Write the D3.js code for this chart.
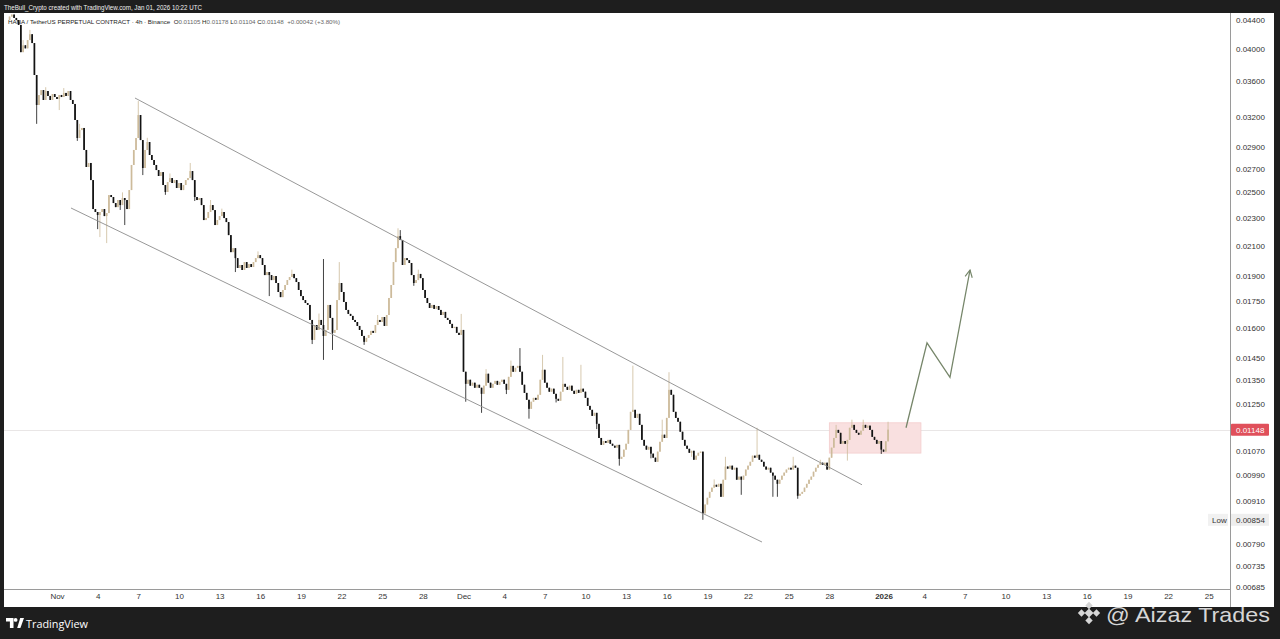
<!DOCTYPE html>
<html><head><meta charset="utf-8">
<script src="https://cdn.jsdelivr.net/npm/d3@7"></script>
<style>
html,body{margin:0;padding:0;background:#1e1e1e;overflow:hidden}
svg{display:block}
</style>
</head><body>
<svg id="c" width="1280" height="639"></svg>
<script>
// ---------------- DATA ----------------
const title = "TheBull_Crypto created with TradingView.com, Jan 01, 2026 10:22 UTC";
const symbolText = "HANA / TetherUS PERPETUAL CONTRACT · 4h · Binance";
const ohlcLabels = ["O", "H", "L", "C"];
const ohlcValues = ["0.01105", "0.01178", "0.01104", "0.01148"];
const changeText = "+0.00042 (+3.80%)";

const priceUnit = 1e-5;            // values below are in 0.00001 USDT
const startTime = "2025-10-28T12:00:00Z"; // first 4h candle
const firstOpen = 4400;
const closes = [
  4450, 4480, 4430,                         // Oct 28 (12h-20h)
  4400, 4330, 3960, 4050, 4010, 4120,       // Oct 29
  4200, 4080, 3674, 3330, 3440, 3497,       // Oct 30
  3385, 3486, 3430, 3385, 3452, 3418,       // Oct 31
  3396, 3441, 3418, 3464, 3430, 3486,       // Nov 1
  3385, 3341, 3170, 2988, 3067, 3088,       // Nov 2
  2873, 2717, 2753, 2603, 2367, 2344,       // Nov 3
  2321, 2344, 2367, 2313, 2336, 2478,       // Nov 4
  2462, 2414, 2382, 2438, 2398, 2454,       // Nov 5
  2438, 2367, 2519, 2735, 2873, 2988,       // Nov 6
  3222, 2968, 2708, 2873, 2949, 2826,       // Nov 7
  2780, 2735, 2690, 2638, 2672, 2561,       // Nov 8
  2503, 2586, 2620, 2578, 2603, 2536,       // Nov 9
  2578, 2519, 2561, 2603, 2620, 2681,       // Nov 10
  2603, 2462, 2438, 2454, 2398, 2283,       // Nov 11
  2298, 2344, 2398, 2359, 2246, 2283,       // Nov 12
  2313, 2344, 2298, 2268, 2173, 2055,       // Nov 13
  2082, 2015, 1951, 1970, 1938, 1989,       // Nov 14
  1951, 1976, 1957, 1989, 2015, 2035,       // Nov 15
  2015, 1970, 1906, 1925, 1906, 1875,       // Nov 16
  1900, 1857, 1803, 1773, 1815, 1845,       // Nov 17
  1875, 1894, 1913, 1887, 1863, 1815,       // Nov 18
  1779, 1756, 1739, 1728, 1645, 1541,       // Nov 19
  1618, 1592, 1645, 1618, 1561, 1592,       // Nov 20
  1728, 1656, 1577, 1592, 1756, 1857,       // Nov 21
  1803, 1745, 1700, 1678, 1667, 1645,       // Nov 22
  1634, 1613, 1592, 1561, 1531, 1551,       // Nov 23
  1566, 1587, 1577, 1618, 1645, 1634,       // Nov 24
  1661, 1613, 1672, 1768, 1845, 1989,       // Nov 25
  2082, 2166, 2138, 1970, 2015, 2002,       // Nov 26
  1983, 1906, 1857, 1875, 1913, 1887,       // Nov 27
  1815, 1768, 1739, 1711, 1728, 1706,       // Nov 28
  1722, 1700, 1672, 1689, 1656, 1645,       // Nov 29
  1624, 1602, 1608, 1577, 1566, 1592,       // Nov 30
  1388, 1334, 1352, 1326, 1339, 1317,       // Dec 1
  1330, 1317, 1291, 1326, 1379, 1339,       // Dec 2
  1317, 1334, 1347, 1330, 1343, 1352,       // Dec 3
  1334, 1308, 1365, 1415, 1388, 1406,       // Dec 4
  1415, 1388, 1330, 1295, 1266, 1229,       // Dec 5
  1258, 1274, 1266, 1287, 1352, 1397,       // Dec 6
  1339, 1317, 1300, 1313, 1291, 1270,       // Dec 7
  1262, 1300, 1334, 1321, 1308, 1326,       // Dec 8
  1304, 1291, 1308, 1295, 1313, 1300,       // Dec 9
  1274, 1241, 1225, 1201, 1213, 1170,       // Dec 10
  1117, 1092, 1106, 1099, 1110, 1096,       // Dec 11
  1089, 1082, 1092, 1043, 1050, 1075,       // Dec 12
  1096, 1147, 1217, 1225, 1193, 1209,       // Dec 13
  1166, 1110, 1089, 1075, 1085, 1061,       // Dec 14
  1047, 1033, 1068, 1103, 1129, 1117,       // Dec 15
  1193, 1308, 1287, 1217, 1193, 1178,       // Dec 16
  1140, 1110, 1089, 1078, 1064, 1071,       // Dec 17
  1040, 1054, 1064, 1068, 872, 898,         // Dec 18
  918, 936, 949, 958, 952, 961,             // Dec 19
  921, 974, 1017, 1010, 1020, 1007,         // Dec 20
  1013, 974, 984, 974, 987, 1007,           // Dec 21
  1020, 1033, 1054, 1047, 1057, 1040,       // Dec 22
  1033, 1017, 1007, 1013, 997, 987,         // Dec 23
  974, 961, 974, 987, 997, 1007,            // Dec 24
  1013, 1007, 1020, 1013, 924, 930,         // Dec 25
  936, 949, 961, 974, 984, 1000,            // Dec 26
  1013, 1023, 1030, 1023, 1030, 1007,       // Dec 27
  1047, 1082, 1117, 1147, 1136, 1096,       // Dec 28
  1106, 1096, 1110, 1155, 1166, 1147,       // Dec 29
  1136, 1129, 1144, 1166, 1155, 1163,       // Dec 30
  1147, 1121, 1110, 1096, 1106, 1075,       // Dec 31
  1068, 1105, 1148                          // Jan 1 (00h-08h)
];
// notable wick extremes (time, price in units)
const highWicks = [
  ["2025-10-29T12:00", 4120], ["2025-10-30T00:00", 4260], ["2025-10-31T04:00", 3530],
  ["2025-11-01T12:00", 3520], ["2025-11-02T16:00", 3130], ["2025-11-05T20:00", 2500],
  ["2025-11-07T00:00", 3373], ["2025-11-07T16:00", 2990], ["2025-11-09T08:00", 2660],
  ["2025-11-10T20:00", 2753], ["2025-11-12T08:00", 2438], ["2025-11-13T04:00", 2370],
  ["2025-11-15T20:00", 2060], ["2025-11-18T08:00", 1940], ["2025-11-20T08:00", 1680],
  ["2025-11-20T16:00", 2009], ["2025-11-21T20:00", 1989], ["2025-11-24T16:00", 1672],
  ["2025-11-26T04:00", 2222], ["2025-11-26T08:00", 2209], ["2025-11-27T16:00", 1940],
  ["2025-11-30T20:00", 1678], ["2025-12-02T16:00", 1400], ["2025-12-04T12:00", 1440],
  ["2025-12-05T04:00", 1500], ["2025-12-06T20:00", 1467], ["2025-12-08T08:00", 1457],
  ["2025-12-09T16:00", 1420], ["2025-12-13T12:00", 1416], ["2025-12-15T16:00", 1186],
  ["2025-12-16T04:00", 1386], ["2025-12-19T12:00", 975],  ["2025-12-20T08:00", 1050],
  ["2025-12-22T16:00", 1155], ["2025-12-25T08:00", 1050], ["2025-12-27T08:00", 1040],
  ["2025-12-28T12:00", 1166], ["2025-12-29T16:00", 1186], ["2025-12-30T12:00", 1186],
  ["2026-01-01T08:00", 1178]
];
const lowWicks = [
  ["2025-10-30T12:00", 3130], ["2025-11-01T04:00", 3275], ["2025-11-02T12:00", 2960],
  ["2025-11-04T00:00", 2216], ["2025-11-04T04:00", 2159], ["2025-11-04T16:00", 2117],
  ["2025-11-05T16:00", 2360], ["2025-11-06T00:00", 2246], ["2025-11-07T08:00", 2646],
  ["2025-11-09T00:00", 2480], ["2025-11-11T04:00", 2430], ["2025-11-14T04:00", 1925],
  ["2025-11-16T16:00", 1779], ["2025-11-19T20:00", 1520], ["2025-11-20T16:00", 1443],
  ["2025-11-21T08:00", 1491], ["2025-11-23T16:00", 1516], ["2025-11-27T08:00", 1840],
  ["2025-12-01T04:00", 1258], ["2025-12-02T08:00", 1213], ["2025-12-04T04:00", 1290],
  ["2025-12-05T20:00", 1190], ["2025-12-07T20:00", 1255], ["2025-12-10T20:00", 1150],
  ["2025-12-12T12:00", 1020], ["2025-12-14T20:00", 1045], ["2025-12-17T20:00", 1050],
  ["2025-12-18T16:00", 854],  ["2025-12-21T12:00", 927],  ["2025-12-23T20:00", 921],
  ["2025-12-24T04:00", 921],  ["2025-12-25T16:00", 915],  ["2025-12-29T08:00", 1037],
  ["2025-12-31T20:00", 1060], ["2026-01-01T08:00", 1104]
];

// drawings
const upperChannel = [["2025-11-06T18:09", 0.03407], ["2025-12-30T09:50", 0.00958]];
const lowerChannel = [["2025-11-02T00:48", 0.02375], ["2025-12-23T00:43", 0.00794]];
const projection = [["2026-01-02T15:50", 0.01155], ["2026-01-04T05:00", 0.01526],
                    ["2026-01-05T21:40", 0.01363], ["2026-01-07T09:10", 0.01938]];
const zoneTimes = ["2025-12-28T00:00", "2026-01-03T18:15"];
const zonePrices = [0.01174, 0.01063];
const lastPrice = 0.01148;
const lowPrice = 0.00854;

// axes
const xDomain = ["2025-10-28T02:08", "2026-01-26T13:40"];
const yDomain = [0.006806, 0.04488];
const yTickValues = [0.044, 0.040, 0.036, 0.032, 0.029, 0.027, 0.025, 0.023, 0.021, 0.019,
  0.0175, 0.016, 0.0145, 0.0135, 0.0125, 0.0107, 0.0099, 0.0091, 0.0079, 0.00735, 0.00685];
const xTickDates = ["2025-11-01","2025-11-04","2025-11-07","2025-11-10","2025-11-13","2025-11-16",
  "2025-11-19","2025-11-22","2025-11-25","2025-11-28","2025-12-01","2025-12-04","2025-12-07",
  "2025-12-10","2025-12-13","2025-12-16","2025-12-19","2025-12-22","2025-12-25","2025-12-28",
  "2026-01-01","2026-01-04","2026-01-07","2026-01-10","2026-01-13","2026-01-16","2026-01-19",
  "2026-01-22","2026-01-25"];
const xTickLabels = ["Nov","4","7","10","13","16","19","22","25","28","Dec","4","7","10","13",
  "16","19","22","25","28","2026","4","7","10","13","16","19","22","25"];

// ---------------- LAYOUT ----------------
const W = 1280, H = 639;
const plot = {left: 4, right: 1230, top: 14, bottom: 589};
const panel = {left: 4, right: 1274, top: 13, bottom: 607};
const upColor = "#cdbb9b", downColor = "#131313";
const FONT = "'Liberation Sans', Arial, sans-serif";

const svg = d3.select("#c");
const toDate = s => new Date(s.length <= 16 ? s + ":00Z" : s);

const x = d3.scaleUtc().domain(xDomain.map(toDate)).range([plot.left, plot.right]);
const y = d3.scaleLog().domain(yDomain).range([plot.bottom, plot.top]);

// background
svg.append("rect").attr("width", W).attr("height", H).attr("fill", "#1e1e1e");
svg.append("rect").attr("x", panel.left).attr("y", panel.top)
  .attr("width", panel.right - panel.left).attr("height", panel.bottom - panel.top).attr("fill", "#ffffff");

// clip
svg.append("clipPath").attr("id", "clip").append("rect")
  .attr("x", plot.left).attr("y", plot.top)
  .attr("width", plot.right - plot.left).attr("height", plot.bottom - plot.top);
const g = svg.append("g").attr("clip-path", "url(#clip)");

// current price line
g.append("line").attr("x1", plot.left).attr("x2", plot.right)
  .attr("y1", Math.round(y(lastPrice)) + 0.5).attr("y2", Math.round(y(lastPrice)) + 0.5)
  .attr("stroke", "#e9e6e6").attr("stroke-width", 1);

// zone box
g.append("rect")
  .attr("x", x(toDate(zoneTimes[0]))).attr("y", y(zonePrices[0]))
  .attr("width", x(toDate(zoneTimes[1])) - x(toDate(zoneTimes[0])))
  .attr("height", y(zonePrices[1]) - y(zonePrices[0]))
  .attr("fill", "#f9e0e0").attr("stroke", "#f3cccc").attr("stroke-width", 0.8);

// candles
const t0 = new Date(startTime);
const H4 = 4 * 3600 * 1000;
const hiMap = new Map(highWicks.map(d => [+toDate(d[0]), d[1]]));
const loMap = new Map(lowWicks.map(d => [+toDate(d[0]), d[1]]));
const candles = closes.map((c, i) => {
  const t = new Date(+t0 + i * H4);
  const o = i === 0 ? firstOpen : closes[i - 1];
  const hi = Math.max(o, c, hiMap.has(+t) ? hiMap.get(+t) : 0);
  const lo = Math.min(o, c, loMap.has(+t) ? loMap.get(+t) : Infinity);
  return {t, o: o * priceUnit, c: c * priceUnit, hi: hi * priceUnit, lo: lo * priceUnit};
});
const cg = g.append("g");
cg.selectAll("line.w").data(candles).join("line").attr("class", "w")
  .attr("x1", d => x(d.t)).attr("x2", d => x(d.t))
  .attr("y1", d => y(d.hi)).attr("y2", d => y(d.lo))
  .attr("stroke", d => d.c >= d.o ? upColor : downColor).attr("stroke-width", 0.8);
cg.selectAll("rect.b").data(candles).join("rect").attr("class", "b")
  .attr("x", d => x(d.t) - 0.85).attr("width", 1.7)
  .attr("y", d => y(Math.max(d.o, d.c)))
  .attr("height", d => Math.max(1, y(Math.min(d.o, d.c)) - y(Math.max(d.o, d.c))))
  .attr("fill", d => d.c >= d.o ? upColor : downColor);

// channel lines
const line = d3.line().x(d => x(toDate(d[0]))).y(d => y(d[1]));
[upperChannel, lowerChannel].forEach(ch => {
  g.append("path").attr("d", line(ch)).attr("fill", "none")
    .attr("stroke", "#8c8c8c").attr("stroke-width", 0.9);
});

// projection arrow
svg.append("defs").append("marker").attr("id", "arr")
  .attr("viewBox", "0 0 10 10").attr("refX", 9).attr("refY", 5)
  .attr("markerWidth", 9).attr("markerHeight", 9).attr("markerUnits", "userSpaceOnUse")
  .attr("orient", "auto")
  .append("path").attr("d", "M1,1 L9,5 L1,9").attr("fill", "none")
  .attr("stroke", "#76866a").attr("stroke-width", 1.3);
g.append("path").attr("d", line(projection)).attr("fill", "none")
  .attr("stroke", "#76866a").attr("stroke-width", 1.3).attr("marker-end", "url(#arr)");

// axes frame lines
svg.append("line").attr("x1", plot.right + 0.5).attr("x2", plot.right + 0.5)
  .attr("y1", panel.top).attr("y2", panel.bottom).attr("stroke", "#9a9a9a").attr("stroke-width", 1);
svg.append("line").attr("x1", panel.left).attr("x2", plot.right)
  .attr("y1", plot.bottom + 0.5).attr("y2", plot.bottom + 0.5).attr("stroke", "#9a9a9a").attr("stroke-width", 1);

// y axis
const yAxis = d3.axisRight(y).tickValues(yTickValues).tickFormat(d3.format(".5f")).tickSize(0).tickPadding(6);
const ya = svg.append("g").attr("transform", `translate(${plot.right},0)`).call(yAxis);
ya.select(".domain").remove();
ya.selectAll("text").attr("font-family", FONT).attr("font-size", 8).attr("fill", "#333");

// x axis
const xAxis = d3.axisBottom(x).tickValues(xTickDates.map(d => toDate(d + "T00:00")))
  .tickFormat((d, i) => xTickLabels[i]).tickSize(0).tickPadding(4);
const xa = svg.append("g").attr("transform", `translate(0,${plot.bottom})`).call(xAxis);
xa.select(".domain").remove();
xa.selectAll("text").attr("font-family", FONT).attr("font-size", 8).attr("fill", "#333")
  .attr("font-weight", (d, i) => xTickLabels[i] === "2026" ? "bold" : "normal");

// last price label
const ly = y(lastPrice);
svg.append("rect").attr("x", plot.right + 1).attr("y", ly - 6).attr("width", 38).attr("height", 12)
  .attr("fill", "#e0505b").attr("rx", 1);
svg.append("text").attr("x", plot.right + 6).attr("y", ly + 3).text(d3.format(".5f")(lastPrice))
  .attr("font-family", FONT).attr("font-size", 8).attr("fill", "#fff");

// low label
const lowY = y(lowPrice);
svg.append("rect").attr("x", 1208).attr("y", lowY - 6).attr("width", 20).attr("height", 12).attr("fill", "#f1f1f1");
svg.append("text").attr("x", 1212).attr("y", lowY + 3).text("Low")
  .attr("font-family", FONT).attr("font-size", 8).attr("fill", "#333");
svg.append("rect").attr("x", plot.right + 1).attr("y", lowY - 6).attr("width", 38).attr("height", 12).attr("fill", "#eeeeee");
svg.append("text").attr("x", plot.right + 6).attr("y", lowY + 3).text(d3.format(".5f")(lowPrice))
  .attr("font-family", FONT).attr("font-size", 8).attr("fill", "#333");

// header
svg.append("text").attr("x", 4).attr("y", 9.5).text(title)
  .attr("font-family", FONT).attr("font-size", 6.6).attr("fill", "#f0f0f0")
  .attr("textLength", 198).attr("lengthAdjust", "spacingAndGlyphs");
const ht = svg.append("text").attr("x", 8).attr("y", 23.5).attr("xml:space", "preserve")
  .attr("font-family", FONT).attr("font-size", 6.2).attr("fill", "#222");
ht.append("tspan").text(symbolText + "  ");
ohlcLabels.forEach((l, i) => {
  ht.append("tspan").text(l).attr("fill", "#222");
  ht.append("tspan").text(ohlcValues[i] + " ").attr("fill", "#666");
});
ht.append("tspan").text(" " + changeText).attr("fill", "#666");

// footer: TradingView logo
const logo = svg.append("g").attr("fill", "#ffffff");
logo.append("path").attr("d", "M6,618 h7.5 v10 h-3.6 v-6.6 h-3.9 z");
logo.append("circle").attr("cx", 15.6).attr("cy", 619.9).attr("r", 1.9);
logo.append("path").attr("d", "M17.2,628 L20.2,618 h3.8 l-3.6,10 z");
svg.append("text").attr("x", 26).attr("y", 627.5).text("TradingView")
  .attr("font-family", "'Open Sans', sans-serif").attr("font-size", 11.5).attr("fill", "#ffffff")
  .attr("textLength", 62).attr("lengthAdjust", "spacingAndGlyphs");

// watermark
const wm = svg.append("g").attr("fill", "#d6d6d6");
[[0, 0, 3.2], [-7.5, 0, 2.6], [7.5, 0, 2.6], [0, -7.5, 2.6], [0, 7.5, 2.6]].forEach(([dx, dy, r]) => {
  wm.append("rect").attr("x", -r).attr("y", -r).attr("width", 2 * r).attr("height", 2 * r)
    .attr("transform", `translate(${1089 + dx},${613 + dy}) rotate(45)`);
});
wm.append("text").attr("x", 1106).attr("y", 622).text("@ Aizaz Trades")
  .attr("font-family", "'Liberation Sans', sans-serif").attr("font-size", 21)
  .attr("textLength", 164).attr("lengthAdjust", "spacingAndGlyphs");
</script>
</body></html>
